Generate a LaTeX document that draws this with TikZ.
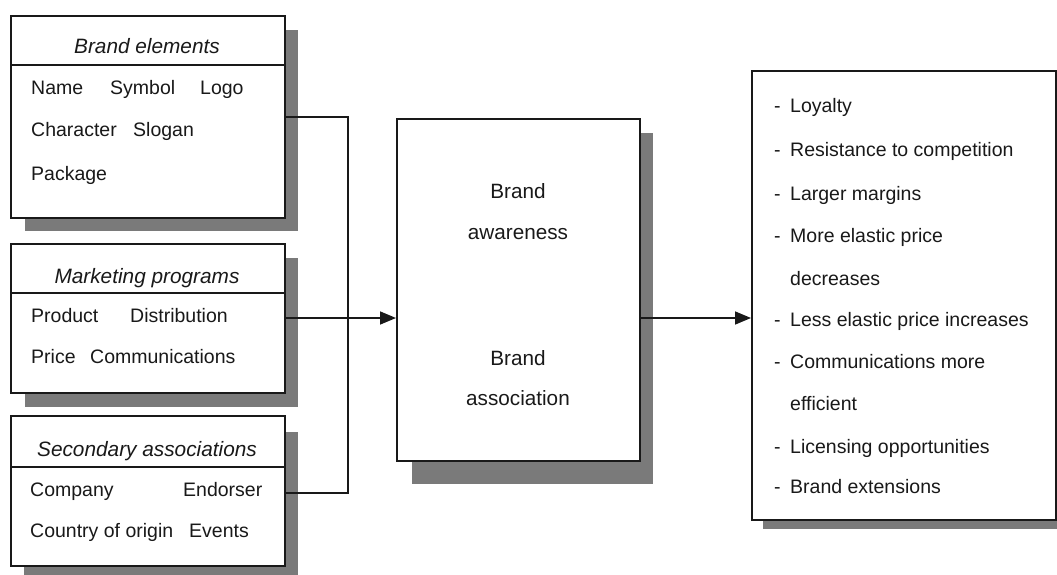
\documentclass[tikz,border=0pt]{standalone}
\usepackage{fontspec}
\setmainfont{Liberation Sans}
\usetikzlibrary{arrows.meta}
\definecolor{shadowgray}{RGB}{122,122,122}
\definecolor{inkdark}{RGB}{25,25,25}
\pgfdeclarelayer{bg}
\pgfdeclarelayer{shadowlayer}
\pgfsetlayers{bg,shadowlayer,main}
\tikzset{
  panel/.style={draw=inkdark, line width=1.6pt, fill=white, inner sep=0pt, anchor=north west},
  hdr/.style={anchor=base, inner sep=0pt, font=\fontsize{20.8pt}{24pt}\selectfont\itshape, text=inkdark},
  item/.style={anchor=base west, inner sep=0pt, font=\fontsize{19.5pt}{23pt}\selectfont, text=inkdark},
  mid/.style={anchor=base, inner sep=0pt, font=\fontsize{20.7pt}{24pt}\selectfont, text=inkdark},
  rule/.style={draw=inkdark, line width=1.4pt},
  wire/.style={draw=inkdark, line width=1.6pt},
  arrowwire/.style={wire, -{Triangle[length=16pt,width=13pt]}},
  shade/.style={fill=shadowgray}
}
\begin{document}
\begin{tikzpicture}[x=1pt, y=-1pt]
\useasboundingbox (0,0) rectangle (1057,575);
\begin{pgfonlayer}{bg}
  \fill[white] (0,0) rectangle (1057,575);
\end{pgfonlayer}

% Left column: three input panels
\node[panel, minimum width=274pt, minimum height=202pt] (elements) at (10,15) {};
\node[panel, minimum width=274pt, minimum height=149pt] (programs) at (10,243) {};
\node[panel, minimum width=274pt, minimum height=150pt] (secondary) at (10,415) {};

% Header rules
\draw[rule] (10,65) -- (284,65);
\draw[rule] (10,293) -- (284,293);
\draw[rule] (10,467) -- (284,467);

% Panel headers
\node[hdr] (h1) at (147,54) {Brand elements};
\node[hdr] (h2) at (147,283) {Marketing programs};
\node[hdr] (h3) at (147,456) {Secondary associations};

% Panel contents
\node[item] (e1) at (31,95) {Name};
\node[item] (e2) at (110,95) {Symbol};
\node[item] (e3) at (200,95) {Logo};
\node[item] (e4) at (31,137) {Character};
\node[item] (e5) at (133,137) {Slogan};
\node[item] (e6) at (31,180) {Package};

\node[item] (p1) at (31,322) {Product};
\node[item] (p2) at (130,322) {Distribution};
\node[item] (p3) at (31,363) {Price};
\node[item] (p4) at (90,363) {Communications};

\node[item] (s1) at (30,496) {Company};
\node[item] (s2) at (183,496) {Endorser};
\node[item] (s3) at (30,537) {Country of origin};
\node[item] (s4) at (189,537) {Events};

% Central panel
\node[panel, minimum width=243pt, minimum height=342pt] (equity) at (396,118) {};
\node[mid] (c1) at (518,198) {Brand};
\node[mid] (c2) at (518,239) {awareness};
\node[mid] (c3) at (518,365) {Brand};
\node[mid] (c4) at (518,405) {association};

% Right panel: outcomes
\node[panel, minimum width=304pt, minimum height=449pt] (outcomes) at (751,70) {};
\foreach \dash/\txt/\yy [count=\k] in {
    1/Loyalty/113,
    1/Resistance to competition/157,
    1/Larger margins/200,
    1/More elastic price/242,
    0/decreases/285,
    1/Less elastic price increases/326,
    1/Communications more/368,
    0/efficient/410,
    1/Licensing opportunities/453,
    1/Brand extensions/493}{
  \ifnum\dash=1
    \node[item] (dash\k) at (774,\yy) {-};
  \fi
  \node[item] (out\k) at (790,\yy) {\txt};
}

% Drop shadows
\begin{pgfonlayer}{shadowlayer}
  \fill[shade] ([shift={(15,15)}]elements.north west) rectangle ([shift={(12,12)}]elements.south east);
  \fill[shade] ([shift={(15,15)}]programs.north west) rectangle ([shift={(12,13)}]programs.south east);
  \fill[shade] ([shift={(14,17)}]secondary.north west) rectangle ([shift={(12,13)}]secondary.south east);
  \fill[shade] ([shift={(16,15)}]equity.north west) rectangle ([shift={(12,22)}]equity.south east);
  \fill[shade] ([shift={(12,15)}]outcomes.north west) rectangle ([shift={(12,8)}]outcomes.south east);
\end{pgfonlayer}

% Connectors
\coordinate (jtop) at (348,117);
\coordinate (jbot) at (348,493);
\coordinate (jmid) at (348,318);
\draw[wire] (elements.east |- jtop) -- (jtop) -- (jbot) -- (secondary.east |- jbot);
\draw[arrowwire] (programs.east |- jmid) -- (equity.west |- jmid);
\draw[arrowwire] (equity.east |- jmid) -- (outcomes.west |- jmid);
\end{tikzpicture}
\end{document}
